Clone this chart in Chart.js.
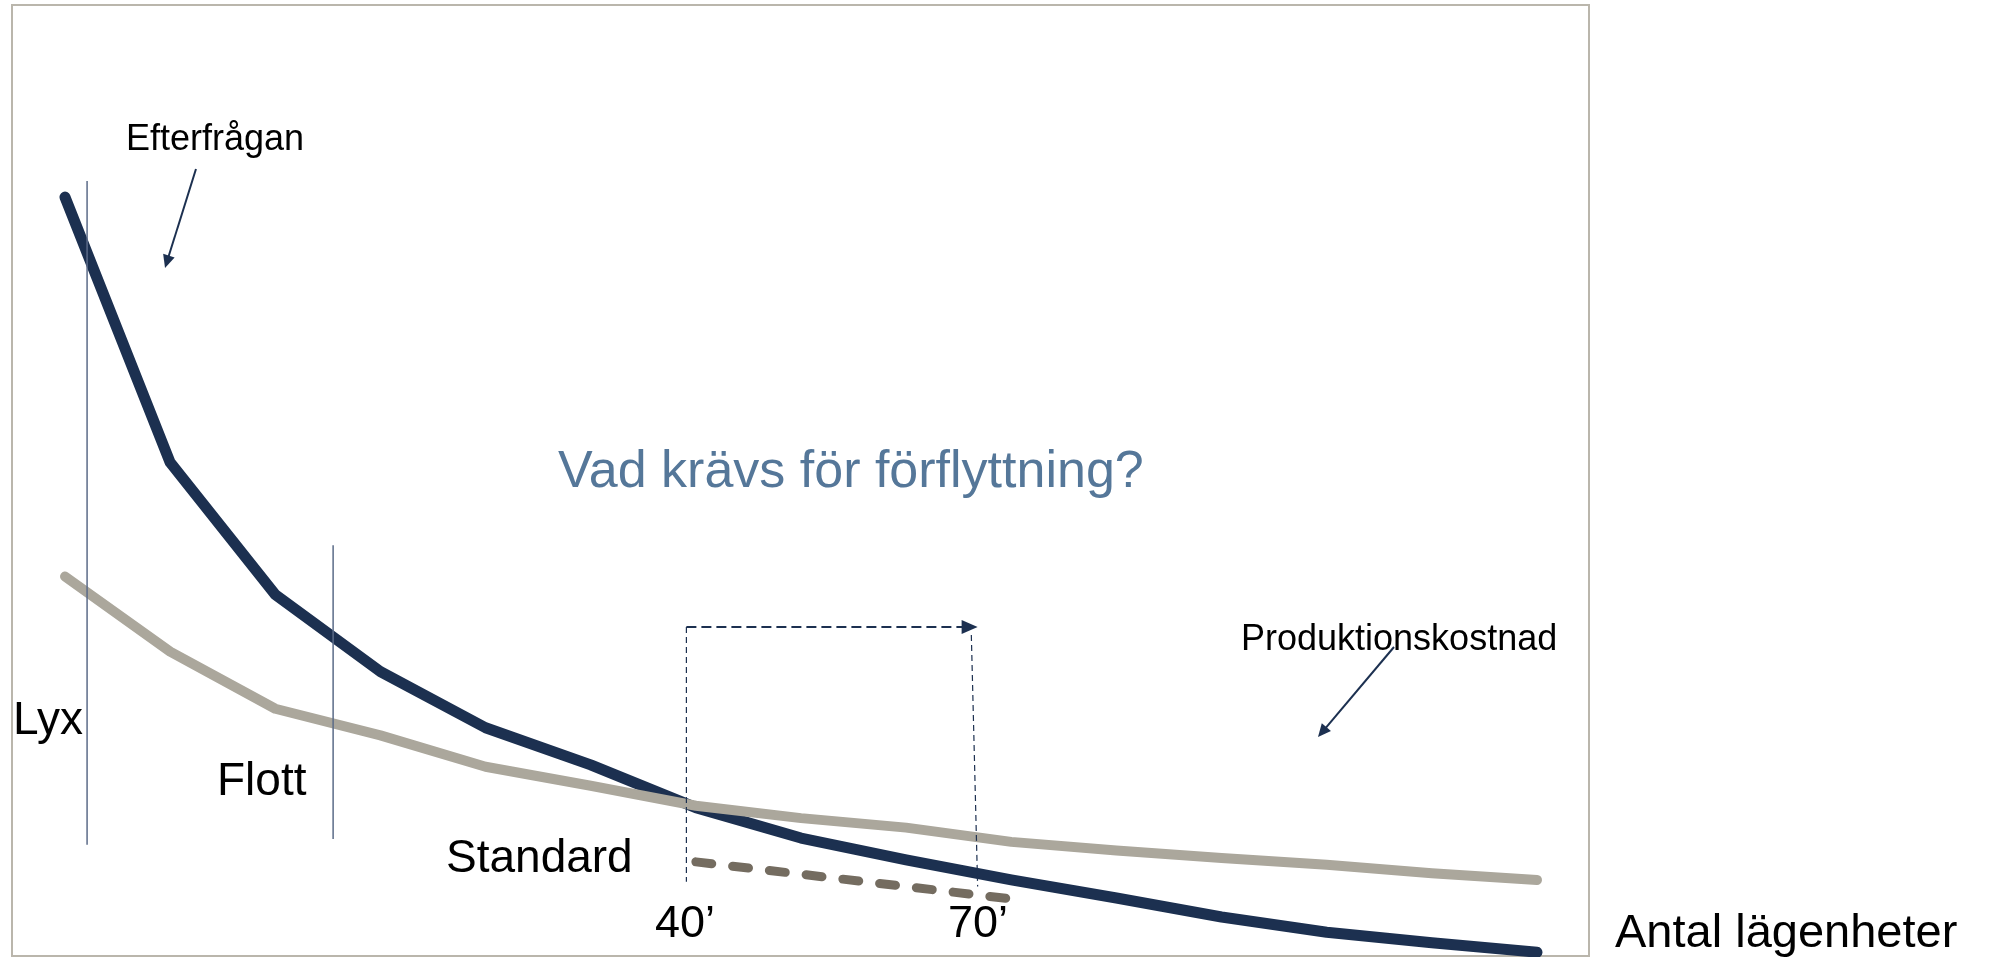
<!DOCTYPE html>
<html>
<head>
<meta charset="utf-8">
<title>Efterfrågan och produktionskostnad</title>
<script src="https://cdn.jsdelivr.net/npm/chart.js@4"></script>
<style>
html, body { margin: 0; padding: 0; background: #fff; }
#wrap { position: relative; width: 1994px; height: 957px; overflow: hidden; }
#frame { position: absolute; left: 11px; top: 4px; width: 1579px; height: 953px;
         border: 2px solid #bab6ac; box-sizing: border-box; }
#chart { position: absolute; left: 0; top: 0; }
</style>
</head>
<body>
<div id="wrap">
  <div id="frame"></div>
  <canvas id="chart" width="1994" height="957"></canvas>
</div>
<script>
// steps along the x axis (antal lägenheter)
const steps = [0, 1, 2, 3, 4, 5, 6, 7, 8, 9, 10, 11, 12, 13, 14];

// price level per step
const demand = [79.8, 51.9, 38.0, 29.9, 24.0, 20.1, 15.6, 12.4, 10.1, 8.0, 6.1, 4.1, 2.5, 1.4, 0.4];
const cost   = [39.9, 32.0, 26.0, 23.2, 19.9, 17.9, 15.8, 14.5, 13.5, 12.0, 11.1, 10.3, 9.6, 8.7, 8.0];

// the lowered "Standard" cost segment
const standardSteps  = [6, 9];
const standardValues = [9.9, 6.0];

// segment dividers (Lyx / Flott): x step, bottom value, top value
const dividerX      = [0.21, 2.55];
const dividerBottom = [11.7, 12.3];
const dividerTop    = [81.5, 43.2];

// 40' -> 70' move
const moveFromX = 5.91;
const moveToX   = [8.62, 8.68];   // top, bottom (guide is slightly slanted)
const moveTop   = 34.6;
const moveBottom = [7.8, 7.3];

const NAVY = '#1c3050';
const GREY = '#aba79c';

function arrow(ctx, x1, y1, x2, y2, len, half) {
    const a = Math.atan2(y2 - y1, x2 - x1);
    const c = Math.cos(a), s = Math.sin(a);
    ctx.beginPath();
    ctx.moveTo(x1, y1);
    ctx.lineTo(x2 - c * len * 0.8, y2 - s * len * 0.8);
    ctx.stroke();
    ctx.setLineDash([]);
    ctx.beginPath();
    ctx.moveTo(x2, y2);
    ctx.lineTo(x2 - c * len + s * half, y2 - s * len - c * half);
    ctx.lineTo(x2 - c * len - s * half, y2 - s * len + c * half);
    ctx.closePath();
    ctx.fill();
}

const annotations = {
    id: 'annotations',
    afterDatasetsDraw(chart) {
        const ctx = chart.ctx;
        const xs = chart.scales.x, ys = chart.scales.y;
        const px = v => xs.getPixelForValue(v);
        const py = v => ys.getPixelForValue(v);
        ctx.save();

        // Lyx / Flott dividers
        ctx.strokeStyle = '#5b6b88';
        ctx.lineWidth = 1.5;
        dividerX.forEach((x, i) => {
            ctx.beginPath();
            ctx.moveTo(px(x), py(dividerTop[i]));
            ctx.lineTo(px(x), py(dividerBottom[i]));
            ctx.stroke();
        });

        // dashed guides 40' and 70'
        ctx.strokeStyle = NAVY;
        ctx.fillStyle = NAVY;
        ctx.lineWidth = 1.2;
        ctx.setLineDash([6, 4]);
        ctx.beginPath();
        ctx.moveTo(px(moveFromX), py(moveTop));
        ctx.lineTo(px(moveFromX), py(moveBottom[0]));
        ctx.moveTo(px(moveToX[0]), py(moveTop) + 8);
        ctx.lineTo(px(moveToX[1]), py(moveBottom[1]));
        ctx.stroke();

        // dashed arrow
        ctx.lineWidth = 2;
        ctx.setLineDash([10, 5]);
        arrow(ctx, px(moveFromX), py(moveTop), px(moveToX[1]), py(moveTop), 16, 7);

        // label arrows
        ctx.lineWidth = 2;
        ctx.setLineDash([]);
        arrow(ctx, 196, 169, 165, 268, 13, 6);
        arrow(ctx, 1394, 647, 1318, 737, 13, 6);

        // texts
        ctx.textBaseline = 'alphabetic';
        ctx.textAlign = 'left';
        const font = s => s + 'px "Liberation Sans", Arial, sans-serif';
        ctx.fillStyle = '#000';
        ctx.font = font(36);
        ctx.fillText('Efterfrågan', 126, 150);
        ctx.fillText('Produktionskostnad', 1241, 650);
        ctx.font = font(46);
        ctx.fillText('Lyx', 13, 734);
        ctx.fillText('Flott', 217, 795);
        ctx.fillText('Standard', 446, 872);
        ctx.font = font(47);
        ctx.fillText('Antal lägenheter', 1615, 947);
        ctx.font = font(45);
        ctx.fillText('40’', 655, 937);
        ctx.fillText('70’', 948, 937);
        ctx.fillStyle = '#557799';
        ctx.font = font(52);
        ctx.fillText('Vad krävs för förflyttning?', 558, 487);

        ctx.restore();
    }
};

new Chart(document.getElementById('chart'), {
    type: 'line',
    data: {
        datasets: [{
            label: 'Produktionskostnad',
            data: steps.map((s, i) => ({ x: s, y: cost[i] })),
            borderColor: GREY,
            borderWidth: 10,
            clip: false
        }, {
            label: 'Efterfrågan',
            data: steps.map((s, i) => ({ x: s, y: demand[i] })),
            borderColor: NAVY,
            borderWidth: 11,
            clip: false
        }, {
            label: 'Standard',
            data: standardSteps.map((s, i) => ({ x: s, y: standardValues[i] })),
            borderColor: '#746c60',
            borderWidth: 9,
            borderDash: [16, 21],
            clip: false
        }]
    },
    options: {
        responsive: false,
        animation: false,
        devicePixelRatio: 1,
        layout: { padding: { left: 65, right: 457, top: 5, bottom: 1 } },
        scales: {
            x: { type: 'linear', min: 0, max: 14, display: false },
            y: { min: 0, max: 100, display: false }
        },
        elements: {
            point: { radius: 0 },
            line: { tension: 0, borderCapStyle: 'round', borderJoinStyle: 'round', fill: false }
        },
        plugins: {
            legend: { display: false },
            tooltip: { enabled: false }
        }
    },
    plugins: [annotations]
});
</script>
</body>
</html>
